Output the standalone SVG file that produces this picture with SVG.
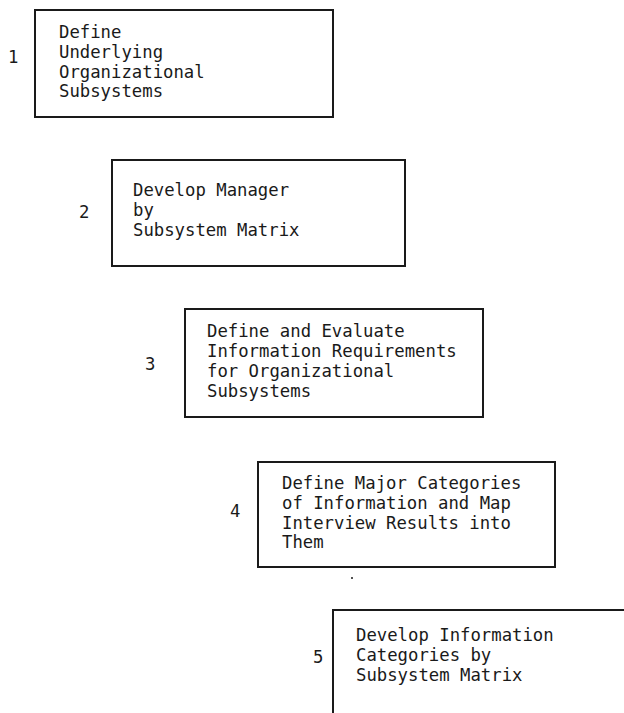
<svg xmlns="http://www.w3.org/2000/svg" width="624" height="713" viewBox="0 0 624 713">
  <style>
    .box { fill: none; stroke: #1a1a1a; stroke-width: 2; }
    .lbl { font-family: "DejaVu Sans Mono", "Liberation Mono", monospace; font-size: 17.3px; fill: #1a1a1a; }
  </style>
  <rect width="624" height="713" fill="#ffffff"/>

  <g id="step1">
    <rect class="box" x="35" y="10" width="298" height="107"/>
    <text class="lbl" x="8" y="63">1</text>
    <text class="lbl" x="59" y="38">Define</text>
    <text class="lbl" x="59" y="58">Underlying</text>
    <text class="lbl" x="59" y="78">Organizational</text>
    <text class="lbl" x="59" y="97">Subsystems</text>
  </g>

  <g id="step2">
    <rect class="box" x="112" y="160" width="293" height="106"/>
    <text class="lbl" x="79" y="218">2</text>
    <text class="lbl" x="133" y="196">Develop Manager</text>
    <text class="lbl" x="133" y="216">by</text>
    <text class="lbl" x="133" y="236">Subsystem Matrix</text>
  </g>

  <g id="step3">
    <rect class="box" x="185" y="309" width="298" height="108"/>
    <text class="lbl" x="145" y="370">3</text>
    <text class="lbl" x="207" y="337">Define and Evaluate</text>
    <text class="lbl" x="207" y="357">Information Requirements</text>
    <text class="lbl" x="207" y="377">for Organizational</text>
    <text class="lbl" x="207" y="397">Subsystems</text>
  </g>

  <g id="step4">
    <rect class="box" x="258" y="462" width="297" height="105"/>
    <text class="lbl" x="230" y="517">4</text>
    <text class="lbl" x="282" y="489">Define Major Categories</text>
    <text class="lbl" x="282" y="509">of Information and Map</text>
    <text class="lbl" x="282" y="529">Interview Results into</text>
    <text class="lbl" x="282" y="548">Them</text>
    <circle cx="352" cy="578" r="1" fill="#1a1a1a"/>
  </g>

  <g id="step5">
    <path class="box" d="M624,610 H333 V713"/>
    <text class="lbl" x="313" y="663">5</text>
    <text class="lbl" x="356" y="641">Develop Information</text>
    <text class="lbl" x="356" y="661">Categories by</text>
    <text class="lbl" x="356" y="681">Subsystem Matrix</text>
  </g>

  <g id="connectors"></g>
</svg>
